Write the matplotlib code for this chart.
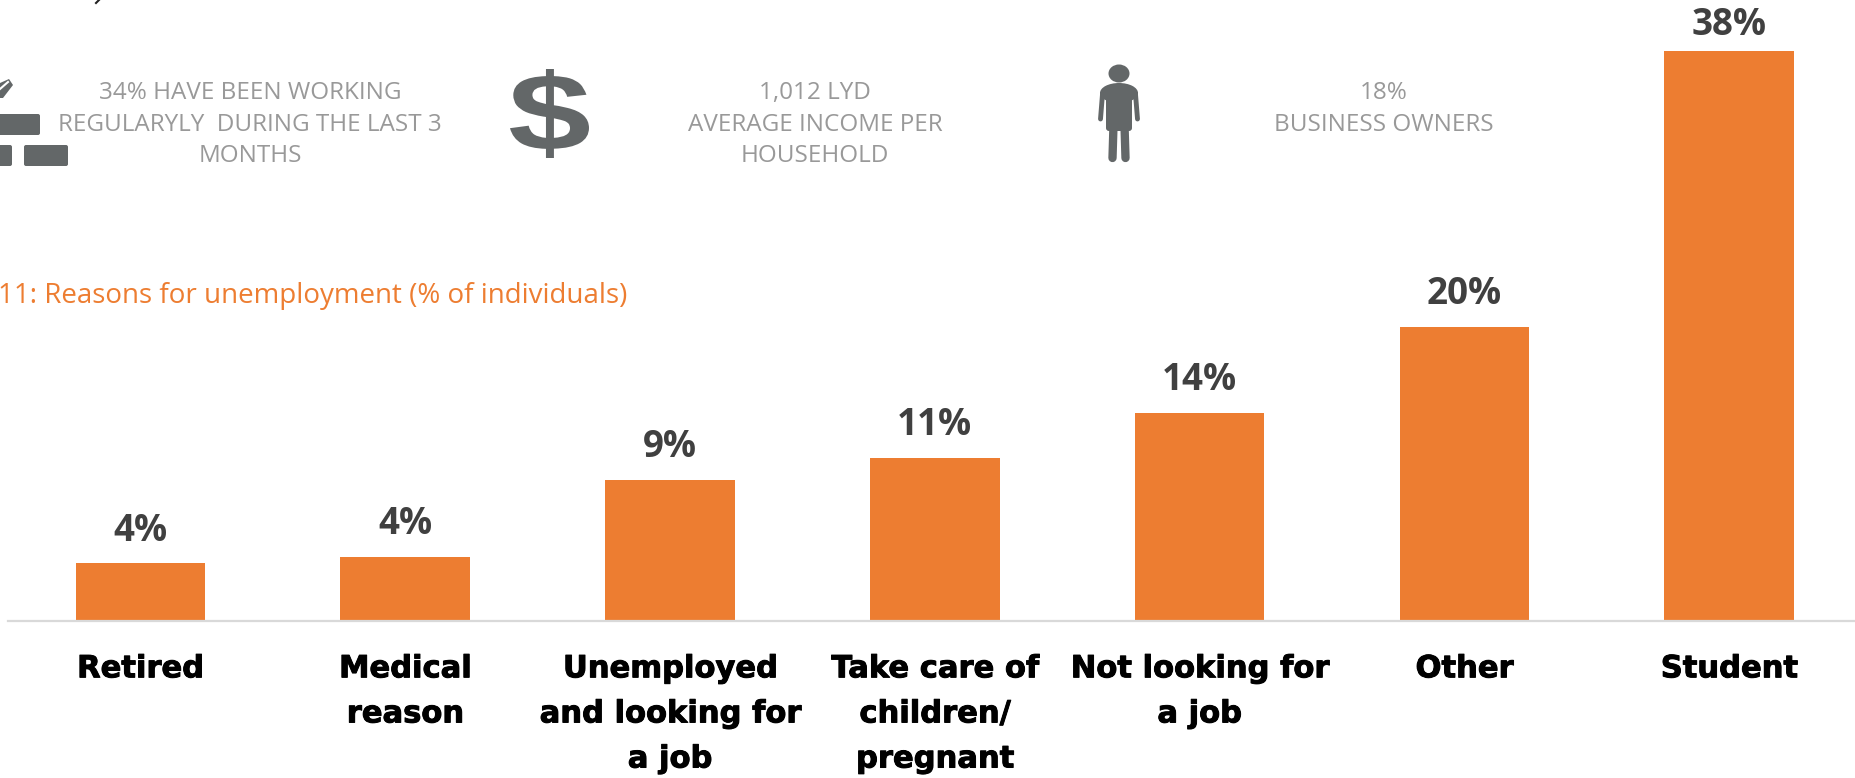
import matplotlib
matplotlib.use("Agg")
import matplotlib.pyplot as plt
import matplotlib.patheffects as pe
from matplotlib.font_manager import FontProperties
from matplotlib.patches import FancyBboxPatch, Ellipse, Polygon, PathPatch
from matplotlib.textpath import TextPath
from matplotlib.transforms import Affine2D

categories = ["Retired", "Medical\nreason", "Unemployed\nand looking for\na job",
              "Take care of\nchildren/\npregnant", "Not looking for\na job", "Other", "Student"]
values = [3.9, 4.25, 9.4, 10.9, 13.9, 19.6, 38]
value_labels = ["4%", "4%", "9%", "11%", "14%", "20%", "38%"]
label_offsets = [9, 10, 10, 10, 10, 10, 5]

title = "11: Reasons for unemployment (% of individuals)"
stat_texts = ["34% HAVE BEEN WORKING\nREGULARYLY  DURING THE LAST 3\nMONTHS",
              "1,012 LYD\nAVERAGE INCOME PER\nHOUSEHOLD",
              "18%\nBUSINESS OWNERS"]

W, H = 1856, 778
ORANGE = "#ED7D31"
ICON = "#636768"
GREY = "#999999"

fig = plt.figure(figsize=(W / 100, H / 100), dpi=100, facecolor="white")

# bar chart, placed by hand so the baseline sits at y=621 px (15 px per %)
ax = fig.add_axes([8 / W, (H - 621) / H, 1853.6 / W, 621 / H])
x = list(range(len(categories)))
bars = ax.bar(x, values, width=0.49, color=ORANGE, clip_on=False)
ax.set_xlim(-0.5, 6.5)
ax.set_ylim(0, 41.4)
ax.patch.set_alpha(0)
for s in ["top", "left", "right"]:
    ax.spines[s].set_visible(False)
ax.spines["bottom"].set_color("#D9D9D9")
ax.spines["bottom"].set_linewidth(1.6)
ax.set_yticks([])
ax.set_xticks(x)
ax.set_xticklabels(categories, family="DejaVu Sans", fontweight="bold", fontsize=22,
                   color="black", linespacing=1.7)
ax.tick_params(axis="x", length=0, pad=24)
for lab in ax.get_xticklabels():
    lab.set_path_effects([pe.withStroke(linewidth=0.7, foreground="black")])

for b, lab, off in zip(bars, value_labels, label_offsets):
    ax.annotate(lab, (b.get_x() + b.get_width() / 2, b.get_height()), xytext=(0, off),
                textcoords="offset points", ha="center", va="bottom",
                family="Open Sans", fontweight="bold", fontsize=26.5, color="#404040",
                annotation_clip=False)

# overlay in pixel coordinates for the icons and header texts
ov = fig.add_axes([0, 0, 1, 1])
ov.set_xlim(0, W)
ov.set_ylim(H, 0)
ov.axis("off")
ov.patch.set_alpha(0)

ov.text(-2, 296, title, family="Open Sans", fontsize=20, color=ORANGE, ha="left", va="center")

for cx, txt in zip([250, 815, 1384], stat_texts):
    ov.text(cx, 81, txt, family="Open Sans", fontsize=17.5, color=GREY, ha="center", va="top",
            linespacing=1.43)

# brick icon, cut by the left edge
for (bx, by, bw, bh) in [(-20, 114, 60, 21), (-20, 145, 32, 21), (24, 145, 44, 21)]:
    ov.add_patch(FancyBboxPatch((bx + 2, by + 2), bw - 4, bh - 4, boxstyle="round,pad=2",
                                fc=ICON, ec="none"))
ov.add_patch(Polygon([(0, 83), (9, 79), (13, 85), (3, 98), (0, 98)], fc=ICON, ec="none"))
ov.plot([0, 8], [89, 82], color="white", lw=1.5)

# dollar sign, glyph stretched into its box in the picture
dollar = TextPath((0, 0), "$", size=100, prop=FontProperties(family="Liberation Sans", weight="bold"))
ext = dollar.get_extents()
x0, x1, y0, y1 = 510, 589, 69, 158
to_box = (Affine2D().translate(-ext.x0, -ext.y1)
          .scale((x1 - x0) / ext.width, -(y1 - y0) / ext.height)
          .translate(x0, y0))
ov.add_patch(PathPatch(dollar, transform=to_box + ov.transData, fc=ICON, ec="none"))

# person icon
ov.add_patch(Ellipse((1119, 73.5), 21, 18, fc=ICON, ec="none"))
ov.add_patch(Ellipse((1119, 93), 38, 20, fc=ICON, ec="none"))
ov.add_patch(FancyBboxPatch((1109, 92), 20, 36, boxstyle="round,pad=3", fc=ICON, ec="none"))
ov.plot([1102.5, 1100.5], [94, 119], color=ICON, lw=3.5, solid_capstyle="round")
ov.plot([1135.5, 1137.5], [94, 119], color=ICON, lw=3.5, solid_capstyle="round")
ov.plot([1113.5, 1112.5], [125, 158], color=ICON, lw=6, solid_capstyle="round")
ov.plot([1124.5, 1125.5], [125, 158], color=ICON, lw=6, solid_capstyle="round")

# bit of cut-off text at the top edge
ov.plot([99, 96], [0, 3], color="#222222", lw=1.5)

fig.savefig("out.png", dpi=100)
